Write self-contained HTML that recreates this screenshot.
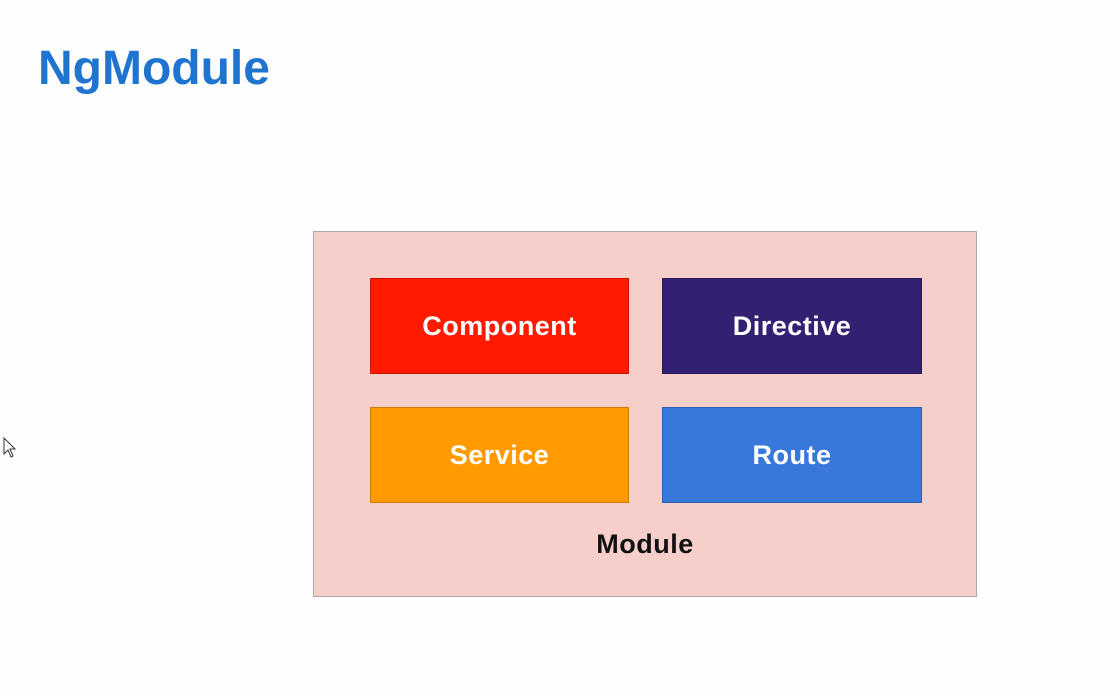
<!DOCTYPE html>
<html><head><style>
body{margin:0;width:1116px;height:690px;background:#fefefe;position:relative;overflow:hidden;font-family:"Liberation Sans",sans-serif;}
.t{position:absolute;left:38px;top:41px;font-size:48px;font-weight:bold;color:#1f74d0;}
.m{position:absolute;left:313px;top:231px;width:662px;height:364px;background:#f6cfcb;border:1px solid #aaa;}
.b{position:absolute;width:259px;height:96px;color:#fff;font-weight:bold;font-size:27px;letter-spacing:0.5px;display:flex;align-items:center;justify-content:center;border:1px solid rgba(0,0,0,0.2);box-sizing:border-box;}
.l{position:absolute;left:545px;width:200px;text-align:center;top:529px;font-size:27px;letter-spacing:0.5px;font-weight:bold;color:#111;}
</style></head><body>
<div class="t">NgModule</div>
<div class="m"></div>
<div class="b" style="left:370px;top:278px;background:#ff1a00">Component</div>
<div class="b" style="left:662px;top:278px;width:260px;background:#332073">Directive</div>
<div class="b" style="left:370px;top:407px;background:#ff9a00">Service</div>
<div class="b" style="left:662px;top:407px;width:260px;background:#3878da">Route</div>
<div class="l">Module</div>
<svg style="position:absolute;left:3px;top:437px" width="14" height="22"><path d="M1 1 L1 17 L5 13 L8 20 L10 19 L7 12 L12 12 Z" fill="#fff" stroke="#333" stroke-width="1"/></svg>
</body></html>
